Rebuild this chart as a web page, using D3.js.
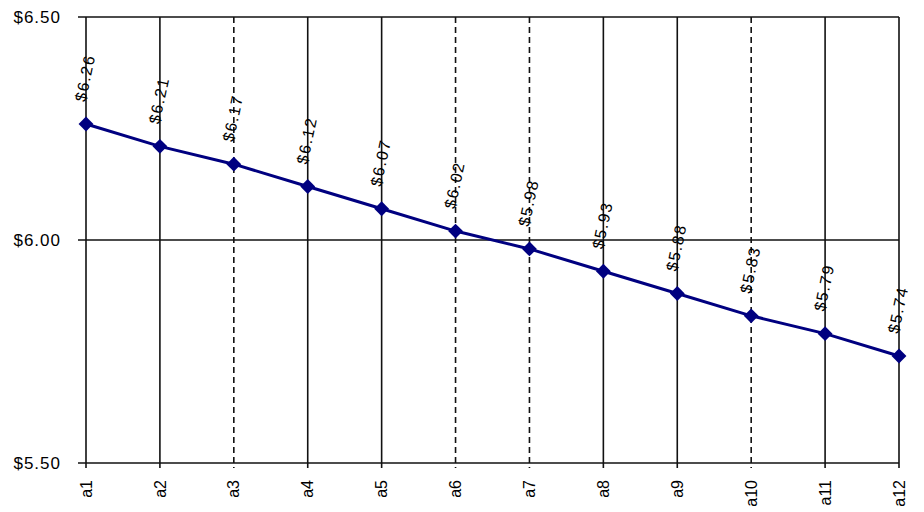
<!DOCTYPE html>
<html>
<head>
<meta charset="utf-8">
<script src="https://cdn.jsdelivr.net/npm/d3@7"></script>
<style>
  html, body { margin: 0; padding: 0; background: #fff; }
  svg { display: block; }
  text { font-family: "Liberation Sans", Arial, sans-serif; fill: #000; }
</style>
</head>
<body>
<svg id="chart" width="924" height="512"></svg>
<script>
const categories = ["a1","a2","a3","a4","a5","a6","a7","a8","a9","a10","a11","a12"];
const values = [6.26, 6.21, 6.17, 6.12, 6.07, 6.02, 5.98, 5.93, 5.88, 5.83, 5.79, 5.74];
const yTicks = [5.50, 6.00, 6.50];
const dashedCategories = ["a3","a6","a7","a10"];

const svg = d3.select("#chart");
const margin = {left: 86, right: 25, top: 17, bottom: 49};
const W = 924, H = 512;

const x = d3.scalePoint().domain(categories).range([margin.left, W - margin.right]).padding(0);
const y = d3.scaleLinear().domain([5.5, 6.5]).range([H - margin.bottom, margin.top]);
const fmt = v => "$" + v.toFixed(2);

// horizontal gridlines
svg.append("g").selectAll("line").data(yTicks).join("line")
  .attr("x1", margin.left - 8).attr("x2", W - margin.right)
  .attr("y1", d => y(d)).attr("y2", d => y(d))
  .attr("stroke", "#111").attr("stroke-width", 1.6);

// vertical gridlines + ticks
svg.append("g").selectAll("line").data(categories).join("line")
  .attr("x1", d => x(d)).attr("x2", d => x(d))
  .attr("y1", y(6.5)).attr("y2", y(5.5) + 5)
  .attr("stroke", "#111").attr("stroke-width", 1.6)
  .attr("stroke-dasharray", d => dashedCategories.includes(d) ? "6,4" : null);

// y tick labels
svg.append("g").selectAll("text").data(yTicks).join("text")
  .attr("x", 61).attr("y", d => y(d)).attr("dy", "0.35em")
  .attr("text-anchor", "end").attr("font-size", 17).attr("letter-spacing", 1)
  .text(fmt);

// x tick labels
svg.append("g").selectAll("text").data(categories).join("text")
  .attr("transform", d => `translate(${x(d)},${y(5.5) + 17}) rotate(-90)`)
  .attr("dy", "0.35em").attr("text-anchor", "end").attr("font-size", 16)
  .text(d => d);

// line
const line = d3.line().x((d, i) => x(categories[i])).y(d => y(d));
svg.append("path").datum(values)
  .attr("d", line).attr("fill", "none")
  .attr("stroke", "#000080").attr("stroke-width", 3);

// markers (diamonds)
svg.append("g").selectAll("path").data(values).join("path")
  .attr("transform", (d, i) => `translate(${x(categories[i])},${y(d)}) rotate(45)`)
  .attr("d", d3.symbol().type(d3.symbolSquare).size(110))
  .attr("fill", "#000080");

// data labels
svg.append("g").selectAll("text").data(values).join("text")
  .attr("transform", (d, i) => `translate(${x(categories[i]) - 1},${y(d) - 46}) rotate(-78)`)
  .attr("dy", "0.35em").attr("text-anchor", "middle").attr("font-size", 16).attr("letter-spacing", 1.5)
  .text(fmt);
</script>
</body>
</html>
